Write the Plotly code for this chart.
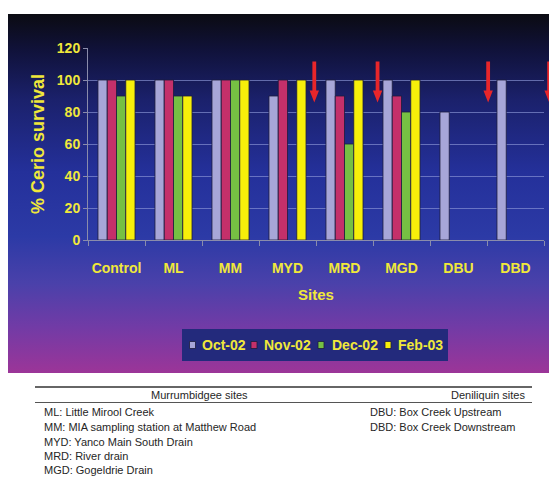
import base64
import plotly.graph_objects as go

# ---------------- data ----------------
sites = ["Control", "ML", "MM", "MYD", "MRD", "MGD", "DBU", "DBD"]
series_names = ["Oct-02", "Nov-02", "Dec-02", "Feb-03"]
oct02 = [100, 100, 100, 90, 100, 100, 80, 100]
nov02 = [100, 100, 100, 100, 90, 90, None, None]
dec02 = [90, 90, 100, None, 60, 80, None, None]
feb03 = [100, 90, 100, 100, 100, 100, None, None]
y_ticks = [0, 20, 40, 60, 80, 100, 120]
arrow_positions = [3.47, 4.58, 6.52, 7.59]   # in site-index units
arrow_tip_value = 86

murrumbidgee_header = "Murrumbidgee sites"
deniliquin_header = "Deniliquin sites"
murrumbidgee_sites = ["ML: Little Mirool Creek",
                      "MM: MIA sampling station at Matthew Road",
                      "MYD: Yanco Main South Drain",
                      "MRD: River drain",
                      "MGD: Gogeldrie Drain"]
deniliquin_sites = ["DBU: Box Creek Upstream",
                    "DBD: Box Creek Downstream"]

# ---------------- style ----------------
colors = ["#a7a6d8", "#c4306a", "#76c043", "#f7ef0a"]
YELLOW = "#f0e83a"
FONT = "Liberation Sans, Arial"
OFF = 8                                  # page body margin
W, H = 557 - OFF, 496 - OFF
L, R, T, B = 88, 544, 48, 240            # plot area in page pixels


def px(x):
    return (x - L) / (R - L)


def py(y):
    return (B - y) / (B - T)


fig = go.Figure()
series = [oct02, nov02, dec02, feb03]
for name, vals, col in zip(series_names, series, colors):
    fig.add_trace(go.Bar(
        x=list(range(len(sites))), y=vals, name=name,
        marker=dict(color=col, line=dict(color="#1c1c3c", width=0.8)),
        showlegend=False))

# background gradient panel
stops = [(0.0, "#0b0b12"), (0.10, "#10123a"), (0.24, "#1b216c"),
         (0.44, "#24309a"), (0.62, "#2c3aa6"), (0.75, "#4a41aa"),
         (0.87, "#713ba6"), (1.0, "#9c3598")]
stop_xml = "".join(f'<stop offset="{o}" stop-color="{c}"/>' for o, c in stops)
svg = ('<svg xmlns="http://www.w3.org/2000/svg" width="100" height="100" '
       'viewBox="0 0 100 100" preserveAspectRatio="none"><defs>'
       '<linearGradient id="g" x1="0" y1="0" x2="0" y2="1">' + stop_xml +
       '</linearGradient></defs><rect width="100" height="100" fill="url(#g)"/></svg>')
src = "data:image/svg+xml;base64," + base64.b64encode(svg.encode()).decode()
fig.add_layout_image(dict(source=src, xref="paper", yref="paper",
                          x=px(8), y=py(14), sizex=px(560) - px(8),
                          sizey=py(14) - py(373), xanchor="left", yanchor="top",
                          sizing="stretch", layer="below"))

shapes = []
# red arrows
n = len(sites)
for a in arrow_positions:
    shapes.append(dict(type="path", xref="paper", yref="y",
                       xsizemode="pixel", ysizemode="pixel",
                       xanchor=(a + 0.5) / n, yanchor=arrow_tip_value,
                       path="M-1.9,41 L1.9,41 L1.9,12 L4.7,12 L0,0 L-4.7,12 L-1.9,12 Z",
                       fillcolor="#e8262a", line=dict(width=0)))

# manual legend
shapes.append(dict(type="rect", xref="paper", yref="paper",
                   x0=px(182), x1=px(448), y0=py(361), y1=py(329),
                   fillcolor="#232a7c", line=dict(width=0)))
legend_sq_x = [189.5, 251, 318, 385]
legend_tx_x = [199.5, 262, 329.5, 396]
annotations = []
for i, name in enumerate(series_names):
    shapes.append(dict(type="rect", xref="paper", yref="paper",
                       x0=px(legend_sq_x[i]), x1=px(legend_sq_x[i] + 6),
                       y0=py(348.5), y1=py(341.5),
                       fillcolor=colors[i], line=dict(color="#1c1c3c", width=0.8)))
    annotations.append(dict(text=name, xref="paper", yref="paper",
                            x=px(legend_tx_x[i]), y=py(344.5), xanchor="left",
                            yanchor="middle", showarrow=False,
                            font=dict(family=FONT, size=14, color=YELLOW,
                                      weight="bold")))

# caption table
shapes.append(dict(type="line", xref="paper", yref="paper",
                   x0=px(35), x1=px(532), y0=py(387), y1=py(387),
                   line=dict(color="#333333", width=1.5)))
shapes.append(dict(type="line", xref="paper", yref="paper",
                   x0=px(35), x1=px(532), y0=py(402.5), y1=py(402.5),
                   line=dict(color="#555555", width=1)))
cap_font = dict(family=FONT, size=11, color="#262626")
annotations.append(dict(text=murrumbidgee_header, xref="paper", yref="paper",
                        x=px(199), y=py(395), xanchor="center", yanchor="middle",
                        showarrow=False, font=cap_font))
annotations.append(dict(text=deniliquin_header, xref="paper", yref="paper",
                        x=px(527), y=py(395), xanchor="right", yanchor="middle",
                        showarrow=False, font=cap_font))
row_y = [412, 427, 441.5, 456, 470.5]
for i, t in enumerate(murrumbidgee_sites):
    annotations.append(dict(text=t, xref="paper", yref="paper",
                            x=px(42), y=py(row_y[i]), xanchor="left", yanchor="middle",
                            showarrow=False, font=cap_font))
for i, t in enumerate(deniliquin_sites):
    annotations.append(dict(text=t, xref="paper", yref="paper",
                            x=px(368), y=py(row_y[i]), xanchor="left", yanchor="middle",
                            showarrow=False, font=cap_font))

axis_grey = "#8a8cab"
fig.update_layout(
    width=W, height=H,
    margin=dict(l=L - OFF, r=W - (R - OFF), t=T - OFF, b=H - (B - OFF), pad=0),
    paper_bgcolor="white", plot_bgcolor="rgba(0,0,0,0)",
    barmode="group", bargap=0.35, bargroupgap=0,
    shapes=shapes, annotations=annotations,
    showlegend=False,
    xaxis=dict(range=[-0.5, n - 0.5], tickmode="array",
               tickvals=list(range(n)), ticktext=sites, ticks="",
               ticklabelstandoff=15,
               tickfont=dict(family=FONT, size=14, color=YELLOW, weight="bold"),
               showgrid=False, zeroline=False, showline=True,
               linecolor=axis_grey, linewidth=1,
               minor=dict(tickmode="array", tickvals=[i - 0.5 for i in range(n + 1)],
                          ticks="outside", ticklen=5, tickcolor=axis_grey,
                          showgrid=False),
               title=dict(text="Sites", standoff=14,
                          font=dict(family=FONT, size=15, color=YELLOW,
                                    weight="bold"))),
    yaxis=dict(range=[0, 120], tickmode="array", tickvals=y_ticks,
               ticks="outside", ticklen=4, tickcolor=axis_grey,
               tickfont=dict(family=FONT, size=14, color=YELLOW, weight="bold"),
               showgrid=True, gridcolor="rgba(140,150,215,0.65)", gridwidth=1,
               zeroline=False, showline=True, linecolor=axis_grey, linewidth=1,
               title=dict(text="% Cerio survival", standoff=7,
                          font=dict(family=FONT, size=18,
                                    color=YELLOW, weight="bold"))),
)

fig.write_html("out.html")
